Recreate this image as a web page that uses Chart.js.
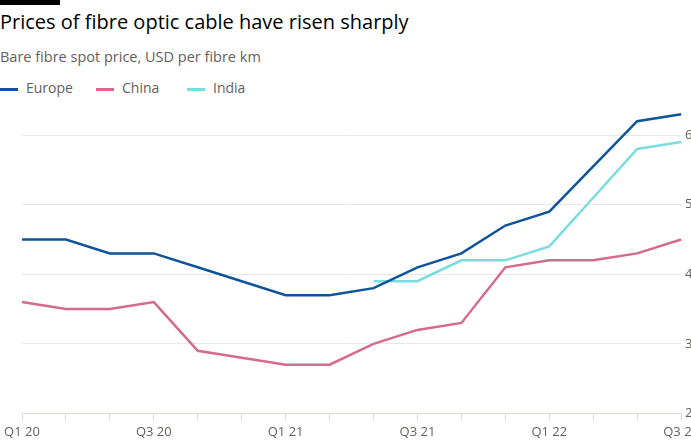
<!DOCTYPE html>
<html><head><meta charset="utf-8">
<script src="https://cdn.jsdelivr.net/npm/chart.js@4"></script>
<style>
body{margin:0;background:#fff;overflow:hidden;width:691px;height:446px;font-family:"Open Sans",sans-serif;color:#33302e}
#title{position:absolute;left:0;top:8px;font-size:20px;color:#000}
#bar{position:absolute;left:0;top:0;width:60px;height:5px;background:#000}
#sub{position:absolute;left:0;top:47px;font-size:14.5px;color:#66605c}
#legend{position:absolute;left:0;top:78px;font-size:14px;color:#66605c}
#legend span{position:absolute;white-space:nowrap}
#legend i{display:inline-block;width:18px;height:3px;vertical-align:middle;margin-right:8px}
#wrap{position:absolute;left:0;top:92px;width:702px;height:351px}
</style></head><body>
<div id="bar"></div>
<div id="title">Prices of fibre optic cable have risen sharply</div>
<div id="sub">Bare fibre spot price, USD per fibre km</div>
<div id="legend"><span style="left:0"><i style="background:#0f5499"></i>Europe</span><span style="left:96px"><i style="background:#d6698f"></i>China</span><span style="left:187px"><i style="background:#78dce0"></i>India</span></div>
<div id="wrap"><canvas id="c"></canvas></div>
<script>
const LABELS = ["Q1 20","","","Q3 20","","","Q1 21","","","Q3 21","","","Q1 22","","","Q3 22"];
const EUROPE = [4.5,4.5,4.3,4.3,4.1,3.9,3.7,3.7,3.8,4.1,4.3,4.7,4.9,5.55,6.2,6.3];
const CHINA  = [3.6,3.5,3.5,3.6,2.9,2.8,2.7,2.7,3.0,3.2,3.3,4.1,4.2,4.2,4.3,4.5];
const INDIA  = [null,null,null,null,null,null,null,null,3.9,3.9,4.2,4.2,4.4,5.1,5.8,5.9];

function ds(label, data, color) {
  return { label, data, borderColor: color, borderWidth: 2.5, pointRadius: 0, fill: false, tension: 0 };
}

new Chart(document.getElementById("c"), {
  type: "line",
  data: {
    labels: LABELS,
    datasets: [ds("Europe", EUROPE, "#0f5499"), ds("China", CHINA, "#d6698f"), ds("India", INDIA, "#78dce0")]
  },
  options: {
    responsive: true, maintainAspectRatio: false, animation: false,
    layout: { padding: { left: 22, top: 0, right: 0, bottom: 0 } },
    plugins: { legend: { display: false }, tooltip: { enabled: false } },
    scales: {
      x: {
        grid: { display: true, drawOnChartArea: false, color: "#e0dad5", tickLength: 8 },
        border: { color: "#e0dad5" },
        ticks: { autoSkip: false, maxRotation: 0, color: "#66605c", font: { family: "Open Sans", size: 13 } }
      },
      y: {
        position: "right", min: 2, max: 6.45,
        afterBuildTicks: a => { a.ticks = [2,3,4,5,6].map(v => ({ value: v })); },
        grid: { color: "#ebe6e2", tickLength: 0 },
        border: { display: false },
        ticks: { color: "#66605c", padding: 4, font: { family: "Open Sans", size: 13 } }
      }
    }
  }
});
</script>
</body></html>
